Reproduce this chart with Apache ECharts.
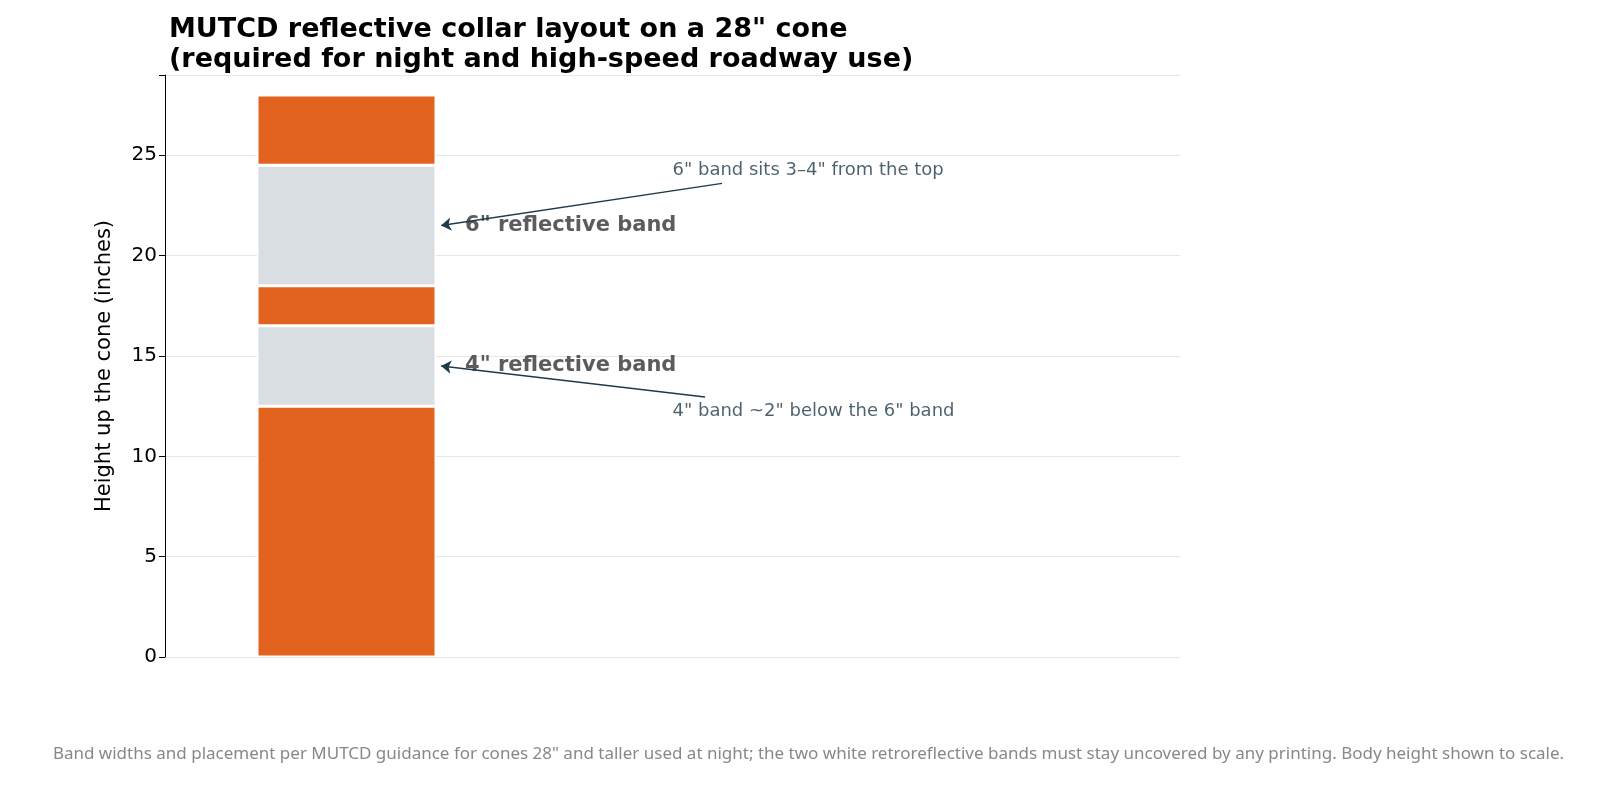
<!DOCTYPE html><html><head><meta charset="utf-8"><script src="https://cdn.jsdelivr.net/npm/echarts@6/dist/echarts.min.js"></script></head><body style="margin:0"><div id="c" style="width:1617px;height:798px"></div><script>
const segNames=['Base','4" band','Gap','6" band','Top'];
const segHeights=[12.5,4,2,6,3.5];
const segColors=['#E2631E','#D9DEE2','#E2631E','#D9DEE2','#E2631E'];
const yTicks=[0,5,10,15,20,25];
const notes=[{text:'6" reflective band',x:0.395,y:21.5,from:[1.256,23.6],to:[0.315,21.5],note:'6" band sits 3–4" from the top',nx:1.09,ny:24.25},
{text:'4" reflective band',x:0.395,y:14.5,from:[1.199,12.95],to:[0.315,14.5],note:'4" band ~2" below the 6" band',nx:1.09,ny:12.25}];
const ch=echarts.init(document.getElementById('c'));
const series=segNames.map((n,i)=>({type:'bar',name:n,stack:'s',xAxisIndex:1,yAxisIndex:1,barWidth:179,data:[segHeights[i]],itemStyle:{color:segColors[i],borderColor:'#fff',borderWidth:1.5}}));
series.push({type:'scatter',symbolSize:0,data:notes.map(n=>[n.x,n.y,n.text]),label:{show:true,position:'right',distance:0,formatter:p=>p.data[2],fontSize:21,fontWeight:'bold',color:'#333',fontFamily:'DejaVu Sans'},
markLine:{silent:true,symbol:['none','arrow'],symbolSize:10,label:{show:false},lineStyle:{color:'#1F3A48',width:1.5,type:'solid'},data:notes.map(n=>[{coord:n.from},{coord:n.to}])}});
series.push({type:'scatter',symbolSize:0,data:notes.map(n=>[n.nx,n.ny,n.note]),label:{show:true,position:'right',distance:0,formatter:p=>p.data[2],fontSize:18,color:'#1F3A48',fontFamily:'DejaVu Sans'}});
ch.setOption({animation:false,
title:[{text:'MUTCD reflective collar layout on a 28" cone\n(required for night and high-speed roadway use)',left:164,top:10,textStyle:{fontSize:27,fontWeight:'bold',color:'#000',fontFamily:'DejaVu Sans',lineHeight:30}},
{text:'Band widths and placement per MUTCD guidance for cones 28" and taller used at night; the two white retroreflective bands must stay uncovered by any printing. Body height shown to scale.',left:'center',top:741,textStyle:{fontSize:17,fontWeight:'normal',color:'#888',fontFamily:'Noto Sans'}}],
grid:[{left:165,right:437,top:75,bottom:141},{left:165,right:1089,top:75,bottom:141}],
xAxis:[{type:'value',gridIndex:0,min:-0.61,max:2.79,show:false},{type:'category',gridIndex:1,data:['cone'],show:false}],
yAxis:[{type:'value',gridIndex:0,min:0,max:29,interval:5,name:'Height up the cone (inches)',nameLocation:'middle',nameGap:50,nameTextStyle:{fontSize:21,color:'#000',fontFamily:'DejaVu Sans'},
axisLine:{show:true,onZero:false,lineStyle:{color:'#000'}},axisTick:{show:true,length:6,lineStyle:{color:'#000'}},axisLabel:{fontSize:20,color:'#000',fontFamily:'DejaVu Sans',formatter:v=>yTicks.includes(v)?v:''},splitLine:{lineStyle:{color:'#e6e6e6'}}},
{type:'value',gridIndex:1,min:0,max:29,show:false}],
series});
</script></body></html>
